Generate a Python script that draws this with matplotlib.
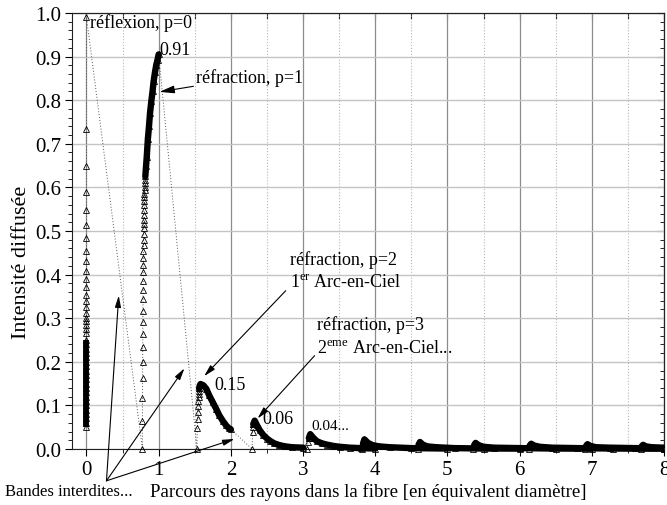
import matplotlib
matplotlib.use("Agg")
import matplotlib.pyplot as plt
import numpy as np
from matplotlib.patches import Rectangle
from matplotlib.ticker import MultipleLocator

# ------------------------------------------------------------------ data
# each branch p: a sparse "rise" (separate triangles) then a dense "arc"
p0_rise_y = [0.265, 0.275, 0.285, 0.293, 0.30, 0.313, 0.326, 0.34, 0.354, 0.372,
             0.39, 0.409, 0.43, 0.453, 0.483, 0.513, 0.549, 0.59, 0.65, 0.735, 0.99]
p0_arc_y = [0.05, 0.06, 0.07, 0.08, 0.09, 0.10, 0.11, 0.12, 0.13, 0.14, 0.15,
            0.16, 0.17, 0.18, 0.19, 0.20, 0.21, 0.22, 0.23, 0.24, 0.25]

p1_rise_x = [0.775, 0.775, 0.776, 0.777, 0.778, 0.779, 0.780, 0.781, 0.782, 0.783,
             0.784, 0.785, 0.786, 0.787, 0.788, 0.789, 0.790, 0.791, 0.792, 0.793,
             0.794, 0.795, 0.796, 0.797, 0.798, 0.799, 0.80, 0.802, 0.804, 0.806,
             0.808, 0.81]
p1_rise_y = [0.0, 0.065, 0.117, 0.163, 0.20, 0.235, 0.264, 0.292, 0.316, 0.343,
             0.364, 0.386, 0.405, 0.421, 0.437, 0.453, 0.467, 0.48, 0.494, 0.506,
             0.515, 0.525, 0.536, 0.548, 0.559, 0.568, 0.577, 0.585, 0.594, 0.602,
             0.610, 0.617]
p1_arc_x = [0.815, 0.825, 0.835, 0.85, 0.866, 0.88, 0.898, 0.915, 0.93, 0.95,
            0.967, 0.985, 1.0]
p1_arc_y = [0.625, 0.648, 0.67, 0.71, 0.74, 0.77, 0.797, 0.82, 0.843, 0.865,
            0.881, 0.893, 0.905]

p2_rise_x = [1.53, 1.535, 1.54, 1.543, 1.546, 1.549, 1.552, 1.555, 1.558, 1.56]
p2_rise_y = [0.0, 0.048, 0.069, 0.084, 0.098, 0.109, 0.119, 0.126, 0.133, 0.139]
p2_arc_x = [1.56, 1.57, 1.58, 1.62, 1.66, 1.70, 1.75, 1.80, 1.84, 1.89, 1.935, 1.97, 2.0]
p2_arc_y = [0.139, 0.146, 0.149, 0.146, 0.138, 0.123, 0.107, 0.091, 0.077, 0.064,
            0.054, 0.048, 0.045]

p3_rise_x = [2.295, 2.30, 2.305, 2.31]
p3_rise_y = [0.0, 0.04, 0.05, 0.057]
p3_arc_x = [2.31, 2.33, 2.36, 2.40, 2.45, 2.50, 2.54, 2.60, 2.67, 2.75, 2.85, 3.0]
p3_arc_y = [0.057, 0.065, 0.055, 0.043, 0.032, 0.024, 0.019, 0.013, 0.009, 0.006,
            0.004, 0.003]

p4_rise_x = [3.05, 3.07, 3.08]
p4_rise_y = [0.0, 0.015, 0.025]
p4_arc_x = [3.08, 3.10, 3.14, 3.19, 3.26, 3.33, 3.42, 3.51, 3.65, 3.8, 4.0]
p4_arc_y = [0.025, 0.034, 0.026, 0.018, 0.013, 0.010, 0.007, 0.005, 0.003, 0.002, 0.001]

p5_rise_x = [3.82, 3.83]
p5_rise_y = [0.0, 0.012]
p5_arc_x = [3.83, 3.85, 3.90, 3.96, 4.05, 4.2, 4.5, 5.0]
p5_arc_y = [0.012, 0.022, 0.014, 0.009, 0.006, 0.004, 0.002, 0.001]

p6_rise_x = [4.59, 4.60]
p6_rise_y = [0.0, 0.010]
p6_arc_x = [4.60, 4.62, 4.66, 4.72, 4.85, 5.1, 5.5, 6.0]
p6_arc_y = [0.010, 0.016, 0.010, 0.006, 0.004, 0.002, 0.001, 0.001]

p7_rise_x = [5.36, 5.37]
p7_rise_y = [0.0, 0.009]
p7_arc_x = [5.37, 5.39, 5.43, 5.50, 5.65, 6.0, 6.5, 7.0]
p7_arc_y = [0.009, 0.014, 0.009, 0.005, 0.003, 0.002, 0.001, 0.001]

p8_rise_x = [6.13, 6.14]
p8_rise_y = [0.0, 0.008]
p8_arc_x = [6.14, 6.16, 6.20, 6.28, 6.45, 6.8, 7.3, 8.0]
p8_arc_y = [0.008, 0.012, 0.008, 0.005, 0.003, 0.002, 0.001, 0.001]

p9_rise_x = [6.91, 6.92]
p9_rise_y = [0.0, 0.007]
p9_arc_x = [6.92, 6.94, 6.98, 7.06, 7.25, 7.6, 8.0, 9.0]
p9_arc_y = [0.007, 0.011, 0.007, 0.004, 0.003, 0.002, 0.001, 0.001]

p10_rise_x = [7.68, 7.69]
p10_rise_y = [0.0, 0.006]
p10_arc_x = [7.69, 7.71, 7.75, 7.83, 8.0, 8.5, 10.0]
p10_arc_y = [0.006, 0.0095, 0.006, 0.004, 0.003, 0.002, 0.001]

x_ticks = [0, 1, 2, 3, 4, 5, 6, 7, 8]
y_ticks = [0.0, 0.1, 0.2, 0.3, 0.4, 0.5, 0.6, 0.7, 0.8, 0.9, 1.0]

# ------------------------------------------------------------------ style
plt.rcParams['font.family'] = ['Liberation Serif', 'DejaVu Serif']
plt.rcParams['mathtext.fontset'] = 'custom'
plt.rcParams['mathtext.rm'] = 'Liberation Serif'

fig = plt.figure(figsize=(6.67, 5.06), dpi=100)
ax = fig.add_axes([0.108, 0.1107, 0.8875, 0.8617])

branches = [
    (np.zeros(len(p0_arc_y)), p0_arc_y, np.zeros(len(p0_rise_y)), p0_rise_y),
    (p1_rise_x, p1_rise_y, p1_arc_x, p1_arc_y),
    (p2_rise_x, p2_rise_y, p2_arc_x, p2_arc_y),
    (p3_rise_x, p3_rise_y, p3_arc_x, p3_arc_y),
    (p4_rise_x, p4_rise_y, p4_arc_x, p4_arc_y),
    (p5_rise_x, p5_rise_y, p5_arc_x, p5_arc_y),
    (p6_rise_x, p6_rise_y, p6_arc_x, p6_arc_y),
    (p7_rise_x, p7_rise_y, p7_arc_x, p7_arc_y),
    (p8_rise_x, p8_rise_y, p8_arc_x, p8_arc_y),
    (p9_rise_x, p9_rise_y, p9_arc_x, p9_arc_y),
    (p10_rise_x, p10_rise_y, p10_arc_x, p10_arc_y),
]

# markers may spill a little below/above the frame, but not past x = 8
clip_box = Rectangle((0, -0.012), 1, 1.04, transform=ax.transAxes,
                     facecolor='none', edgecolor='none')
ax.add_patch(clip_box)

# the whole thing is one series: dotted joins + open triangles
all_x, all_y = [], []
for xa, ya, xb, yb in branches:
    all_x += list(xa) + list(xb)
    all_y += list(ya) + list(yb)

lines = ax.plot(all_x, all_y, linestyle=(0, (1, 2)), color='#555555', lw=0.7,
                marker='^', ms=4.5, mfc='none', mec='black', mew=0.6, zorder=3)

# dense parts: markers overlap into a thick black stroke
lines += ax.plot(np.zeros(len(p0_arc_y)), p0_arc_y, color='black', lw=4.2,
                 solid_capstyle='butt', zorder=4)
for xa, ya, xb, yb in branches[1:]:
    lines += ax.plot(xb, yb, color='black', lw=4.6, solid_capstyle='round', zorder=4)
for ln in lines:
    ln.set_clip_path(clip_box)

# ------------------------------------------------------------------ axes
ax.set_xlim(-0.2, 8.0)
ax.set_ylim(0.0, 1.0)
ax.set_xticks(x_ticks)
ax.set_yticks(y_ticks)
ax.set_yticklabels([f"{v:.1f}" for v in y_ticks])
ax.xaxis.set_minor_locator(MultipleLocator(0.5))
ax.yaxis.set_minor_locator(MultipleLocator(0.02))

ax.grid(True, which='major', axis='x', color='#8c8c8c', lw=0.9)
ax.grid(True, which='minor', axis='x', color='#b8b8b8', lw=0.8, linestyle=':')
ax.grid(True, which='major', axis='y', color='#c4c4c4', lw=1.0)
ax.set_axisbelow(True)

for s in ax.spines.values():
    s.set_color('#222222')
    s.set_linewidth(0.8)

ax.tick_params(axis='both', which='major', direction='out', length=5, width=0.8,
               labelsize=15, pad=3)
ax.tick_params(axis='both', which='minor', direction='out', length=3, width=0.6)

top = ax.secondary_xaxis('top')
top.set_xticks(np.arange(0, 8.5, 0.5))
top.tick_params(direction='in', length=4, width=0.8, labeltop=False)
right = ax.secondary_yaxis('right')
right.set_yticks(y_ticks)
right.yaxis.set_minor_locator(MultipleLocator(0.02))
right.tick_params(which='major', direction='in', length=5, width=0.8, labelright=False)
right.tick_params(which='minor', direction='in', length=3, width=0.6)

ax.set_xlabel("Parcours des rayons dans la fibre [en équivalent diamètre]", fontsize=13.5)
ax.xaxis.set_label_coords(0.5, -0.076)
ax.set_ylabel("Intensité diffusée", fontsize=16)
ax.yaxis.set_label_coords(-0.07, 0.43)

# ------------------------------------------------------------------ annotations
txt = dict(fontsize=13, color='black')
ax.text(0.05, 0.978, "réflexion, p=0", va='center', ha='left', **txt)
ax.text(1.01, 0.917, "0.91", va='center', ha='left', **txt)
ax.text(2.82, 0.436, "réfraction, p=2", va='center', ha='left', **txt)
ax.text(2.82, 0.383, "1$^{\\mathrm{er}}$ Arc-en-Ciel", va='center', ha='left', **txt)
ax.text(3.20, 0.287, "réfraction, p=3", va='center', ha='left', **txt)
ax.text(3.20, 0.231, "2$^{\\mathrm{eme}}$ Arc-en-Ciel...", va='center', ha='left', **txt)
ax.text(1.77, 0.149, "0.15", va='center', ha='left', **txt)
ax.text(2.44, 0.070, "0.06", va='center', ha='left', **txt)
ax.text(3.11, 0.053, "0.04...", va='center', ha='left', fontsize=11)

arrow = dict(arrowstyle='-|>,head_length=0.7,head_width=0.18', color='black',
             lw=0.8, shrinkA=0, shrinkB=0)
ax.annotate("réfraction, p=1", xy=(1.01, 0.819), xytext=(1.52, 0.853),
            va='center', ha='left', arrowprops=arrow, **txt)
ax.annotate("", xy=(1.63, 0.167), xytext=(2.76, 0.363), arrowprops=arrow)
ax.annotate("", xy=(2.37, 0.070), xytext=(3.16, 0.214), arrowprops=arrow)

band_src = (0.277, -0.073)
for head in [(0.447, 0.352), (1.357, 0.185), (2.05, 0.023)]:
    ax.annotate("", xy=head, xytext=band_src, arrowprops=arrow,
                annotation_clip=False)
fig.text(0.0075, 0.028, "Bandes interdites...", fontsize=12, va='center', ha='left')

fig.savefig("out.png", dpi=100)
